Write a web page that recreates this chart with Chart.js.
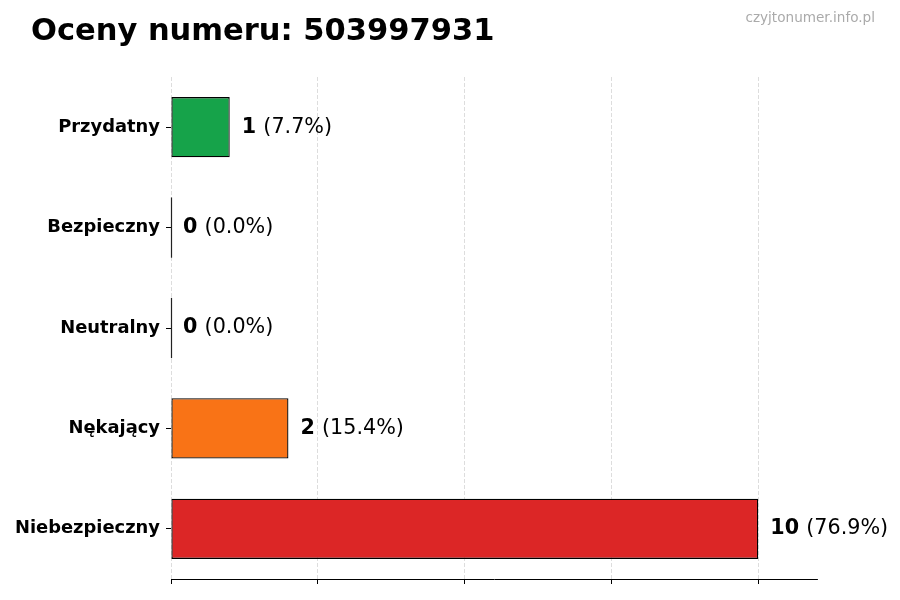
<!DOCTYPE html>
<html>
<head>
<meta charset="utf-8">
<script src="https://cdn.jsdelivr.net/npm/chart.js@4.4.1/dist/chart.umd.min.js"></script>
<style>
html,body{margin:0;padding:0;background:#fff;}
#wrap{width:900px;height:600px;}
</style>
</head>
<body>
<div id="wrap"><canvas id="chartRatings"></canvas></div>
<script>

/* DONNEES */

const categories = ["Przydatny","Bezpieczny","Neutralny","Nękający","Niebezpieczny"];
const counts = [1,0,0,2,10];
const percents = ["7.7","0.0","0.0","15.4","76.9"];
const barColors = ["#16a34a","#16a34a","#9ca3af","#f97316","#dc2626"];

const TITLE = "Oceny numeru: 503997931";
const WATERMARK = "czyjtonumer.info.pl";
const FONT = "'DejaVu Sans', sans-serif";

/* TITRE + FILIGRANE + ETIQUETTES */

const decorPlugin = {
id:'decor',
afterDraw(chart){

let ctx = chart.ctx;
ctx.save();

ctx.fillStyle = "#000";
ctx.font = "bold 30.5px " + FONT;
ctx.textAlign = "left";
ctx.textBaseline = "alphabetic";
ctx.fillText(TITLE, 31, 40);

ctx.fillStyle = "#aaaaaa";
ctx.font = "13.6px " + FONT;
ctx.textAlign = "right";
ctx.fillText(WATERMARK, 875, 22);

let meta = chart.getDatasetMeta(0);
let xs = chart.scales.x;

meta.data.forEach((bar,i)=>{

let x0 = xs.getPixelForValue(counts[i]) + 12;
let y = bar.y;

/* trait pour les valeurs nulles */
if(counts[i]===0){
ctx.strokeStyle = "#222";
ctx.lineWidth = 1.2;
ctx.beginPath();
ctx.moveTo(xs.getPixelForValue(0)+0.5, y - bar.height/2);
ctx.lineTo(xs.getPixelForValue(0)+0.5, y + bar.height/2);
ctx.stroke();
}

ctx.fillStyle = "#000";
ctx.textAlign = "left";
ctx.textBaseline = "middle";
ctx.font = "bold 20.7px " + FONT;
let numTxt = String(counts[i]);
ctx.fillText(numTxt, x0, y);
let w = ctx.measureText(numTxt + " ").width;
ctx.font = "20.7px " + FONT;
ctx.fillText("(" + percents[i] + "%)", x0 + w, y);

});

ctx.restore();
}
};

/* GRAPH */

new Chart(document.getElementById("chartRatings"),{

type:'bar',

data:{
labels:categories,
datasets:[{
data:counts,
backgroundColor:barColors,
borderColor:"#000000",
borderWidth:1.3,
borderSkipped:false,
barPercentage:0.6,
categoryPercentage:1.0
}]
},

options:{
indexAxis:'y',
responsive:true,
maintainAspectRatio:false,
animation:false,
layout:{padding:{top:77,right:83,bottom:1,left:0}},

plugins:{
legend:{display:false},
tooltip:{enabled:false}
},

scales:{
x:{
min:0,
max:11,
afterFit:(s)=>{ s.height = 20; },
ticks:{display:false,stepSize:2.5,includeBounds:false},
grid:{color:"#d4d4d4",lineWidth:0.8,tickLength:5,tickColor:"#000",tickWidth:1},
border:{display:true,color:"#000",width:1,dash:[4,2]}
},
y:{
afterFit:(s)=>{ s.width = 171; },
ticks:{color:"#000",padding:6,font:{family:"DejaVu Sans",size:17.9,weight:"bold"}},
grid:{offset:false,drawOnChartArea:false,tickLength:5,tickColor:"#000",tickWidth:1},
border:{display:false}
}
}

},

plugins:[decorPlugin]

});

</script>
</body>
</html>
